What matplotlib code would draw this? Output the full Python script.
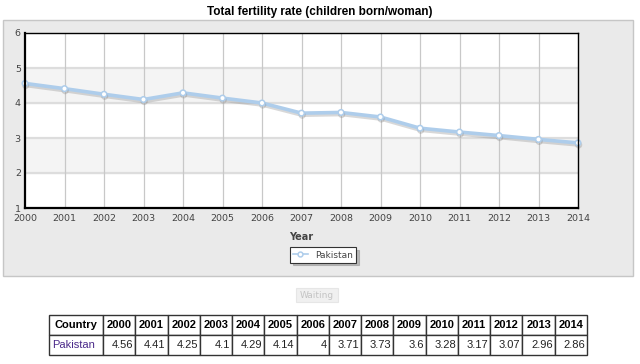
import numpy as np
import matplotlib
matplotlib.use("Agg")
import matplotlib.pyplot as plt
import matplotlib.patheffects as pe
from matplotlib.patches import Rectangle

# data
years = [2000, 2001, 2002, 2003, 2004, 2005, 2006, 2007, 2008, 2009, 2010, 2011, 2012, 2013, 2014]
fertility = [4.56, 4.41, 4.25, 4.1, 4.29, 4.14, 4, 3.71, 3.73, 3.6, 3.28, 3.17, 3.07, 2.96, 2.86]
fertility_labels = ["4.56", "4.41", "4.25", "4.1", "4.29", "4.14", "4", "3.71", "3.73",
                    "3.6", "3.28", "3.17", "3.07", "2.96", "2.86"]
country = "Pakistan"
title = "Total fertility rate (children born/woman)"

W, H = 640, 364
fig = plt.figure(figsize=(W / 100, H / 100), dpi=100)
fig.patch.set_facecolor("white")

def fx(px):
    return px / W

def fy(py):
    return 1 - py / H

# grey panel behind the chart
panel = Rectangle((fx(3), fy(276)), fx(633) - fx(3), fy(20) - fy(276),
                  transform=fig.transFigure, facecolor="#eaeaea", edgecolor="#c6c6c6",
                  linewidth=1, zorder=-5)
fig.patches.append(panel)

fig.text(0.5, fy(12), title, ha="center", va="center", fontsize=8.5,
         fontweight="bold", family="Liberation Sans")

ax = fig.add_axes([fx(25), fy(208), fx(578) - fx(25), fy(33) - fy(208)])
ax.set_zorder(2)
ax.set_xlim(years[0], years[-1])
ax.set_ylim(1, 6)
ax.set_facecolor("white")

# alternating bands
for lo in [2, 4]:
    ax.axhspan(lo, lo + 1, color="#f4f4f4", zorder=0)

for y in [2, 3, 4, 5]:
    ax.axhline(y, color="#dddddd", linewidth=1.6, zorder=1)
for x in years[1:-1]:
    ax.axvline(x, color="#c8c8c8", linewidth=0.9, zorder=1)

ax.plot(years, fertility, color="#aecdeb", linewidth=2.6, marker="o", markersize=4,
        markerfacecolor="white", markeredgecolor="#aecdeb", markeredgewidth=1.1,
        clip_on=False, zorder=3, label=country,
        path_effects=[pe.SimpleLineShadow(offset=(0.5, -1.5), shadow_color="#808080", alpha=0.3),
                      pe.Normal()])

ax.set_xticks(years)
ax.set_yticks([1, 2, 3, 4, 5, 6])
ax.tick_params(length=0, labelsize=6.8, labelcolor="#444444", pad=3)
ax.tick_params(axis="x", pad=4)
for s in ["left", "bottom"]:
    ax.spines[s].set_linewidth(1.6)
for s in ["top", "right"]:
    ax.spines[s].set_linewidth(1.0)
for s in ax.spines.values():
    s.set_color("black")
    s.set_zorder(4)
ax.set_xlabel("Year", fontsize=7, fontweight="bold", color="#444444", labelpad=7)

leg = fig.legend(loc="center", bbox_to_anchor=(fx(323), fy(255)), fontsize=6.5,
                 frameon=True, fancybox=False, borderpad=0.35,
                 shadow={"color": "#999999", "alpha": 0.6},
                 handlelength=1.6, handletextpad=0.8, borderaxespad=0)
leg.set_zorder(3)
leg.get_frame().set_edgecolor("#333333")
leg.get_frame().set_linewidth(0.8)
for line in leg.get_lines():
    line.set_linewidth(1.2)
    line.set_markersize(3.5)
    line.set_path_effects([])
for t in leg.get_texts():
    t.set_color("#444444")

# "Waiting" button
btn = Rectangle((fx(296), fy(302)), fx(338) - fx(296), fy(288) - fy(302),
                transform=fig.transFigure, facecolor="#f0f0f0", edgecolor="#e6e6e6", linewidth=0.8)
fig.patches.append(btn)
fig.text(fx(317), fy(295), "Waiting", ha="center", va="center", fontsize=6.5, color="#c4c4c4")

# data table
tax = fig.add_axes([fx(49), fy(355), fx(587) - fx(49), fy(315) - fy(355)])
tax.set_zorder(2)
tax.axis("off")
header = ["Country"] + [str(y) for y in years]
row = [country] + fertility_labels
col_w = [54] + [32.27] * len(years)
tbl = tax.table(cellText=[header, row], colWidths=col_w, bbox=[0, 0, 1, 1],
                cellLoc="right")
tbl.auto_set_font_size(False)
for (r, c), cell in tbl.get_celld().items():
    cell.set_edgecolor("#333333")
    cell.set_linewidth(1.0)
    cell.PAD = 0.06
    txt = cell.get_text()
    txt.set_family("Liberation Sans")
    txt.set_fontsize(8)
    if r == 0:
        txt.set_fontweight("bold")
        txt.set_ha("center")
    if c == 0:
        txt.set_ha("left" if r == 1 else "center")
        if r == 1:
            txt.set_color("#4b2a8a")
    if r == 1 and c > 0:
        txt.set_color("#222222")

fig.savefig("out.png", dpi=100)
